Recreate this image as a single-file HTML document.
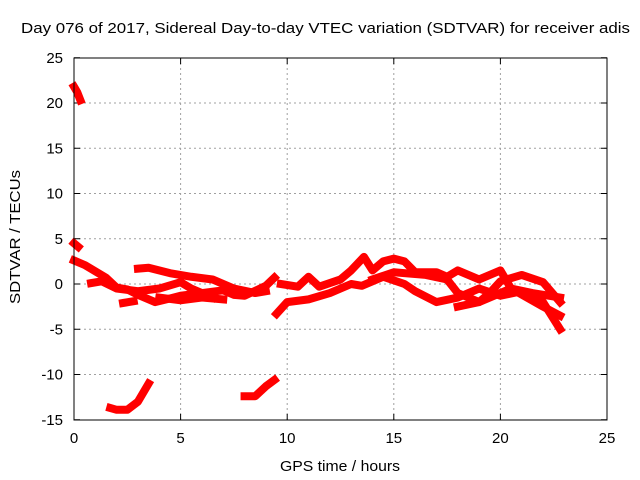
<!DOCTYPE html>
<html><head><meta charset="utf-8"><style>
body{margin:0;background:#fff}
svg{display:block;font-family:"Liberation Sans",sans-serif}
</style></head><body>
<svg id="chart" width="640" height="480">
<rect width="640" height="480" fill="#fff"/>
<text x="21" y="33" font-size="15" textLength="609" lengthAdjust="spacingAndGlyphs">Day 076 of 2017, Sidereal Day-to-day VTEC variation (SDTVAR) for receiver adis</text>
<text x="280" y="471" font-size="15" textLength="120" lengthAdjust="spacingAndGlyphs">GPS time / hours</text>
<text transform="translate(20,304) rotate(-90)" font-size="15" textLength="134" lengthAdjust="spacingAndGlyphs">SDTVAR / TECUs</text>
<g id="grid"></g><g id="ticks"></g><g id="marks"></g>
<rect x="74" y="58" width="533" height="362" fill="none" stroke="#000" stroke-width="1"/>
</svg>
<script>
const xTicks=[0,5,10,15,20,25];
const yTicks=[25,20,15,10,5,0,-5,-10,-15];
const traceTop=[[0,21.8],[0.15,21.2],[0.3,20.3]];
const traceEarly=[[0,4.5],[0.2,4.1]];
const traceA=[[0,2.6],[0.5,2.1],[1,1.4],[1.5,0.7],[2,-0.4],[2.5,-0.6],[3,-1.2],[3.8,-2],[4.5,-1.6],[5,-1.3],[6,-1],[7,-0.7],[7.5,-1.2],[8,-1.3],[9,-0.2],[9.4,0.7]];
const traceB=[[3,1.7],[3.5,1.8],[4.5,1.2],[5.5,0.8],[6.5,0.5],[7.5,-0.5],[8.5,-1],[9,-0.8]];
const traceC=[[0.8,0.1],[1.3,0.3],[2,-0.5],[3,-0.8],[4,-0.5],[5,0.2],[5.5,-0.5],[6.5,-1.5]];
const traceD=[[2.3,-2.1],[2.8,-1.9]];
const traceE=[[4,-1.5],[5,-1.8],[6,-1.5],[7,-1.7]];
const traceLow1=[[1.7,-13.7],[2,-13.9],[2.5,-13.9],[3,-13],[3.5,-11]];
const traceLow2=[[8,-12.4],[8.5,-12.4],[9,-11.3],[9.4,-10.6]];
const traceMid=[[9.5,-3.3],[10,-2],[11,-1.7],[12,-1],[13,0],[13.5,-0.2],[14.5,0.8],[15.5,0],[16,-0.8],[17,-2],[18,-1.5],[19,-0.5],[20,-1.3],[21,-0.8],[22,-2],[22.8,-5]];
const traceUpper=[[9.7,0],[10.5,-0.3],[11,0.8],[11.5,-0.3],[12.5,0.5],[13,1.5],[13.6,3],[14,1.5],[14.5,2.5],[15,2.8],[15.5,2.5],[16,1.3],[17,1.3],[17.5,0.8],[18,1.5],[19,0.5],[20,1.5],[20.5,-0.5],[21.5,-1],[22.8,-1.5]];
const traceF=[[14,0.5],[15,1.3],[16.5,1],[17.5,0.5],[18,-1],[19,-2],[19.5,-1],[20,0.3],[21,1],[22,0.2],[22.8,-2]];
const traceG=[[18,-2.5],[19,-2],[20.5,-0.5],[22,-2.5],[22.8,-3.5]];
const traces=[traceTop,traceEarly,traceA,traceB,traceC,traceD,traceE,traceLow1,traceLow2,traceMid,traceUpper,traceF,traceG];
const X=h=>74+h*(533/25);
const Y=v=>284-v*9.05;
const NS="http://www.w3.org/2000/svg";
const grid=document.getElementById('grid'),ticks=document.getElementById('ticks'),marks=document.getElementById('marks');
function mk(t,a,p){const e=document.createElementNS(NS,t);for(const k in a)e.setAttribute(k,a[k]);p.appendChild(e);return e;}
xTicks.forEach(t=>{
  if(t>0&&t<25){const g=mk('line',{x1:X(t),x2:X(t),y1:58,y2:420,stroke:'#a0a0a0','stroke-dasharray':'2,3'},grid);
  
  }
  const l=mk('text',{x:X(t),y:443,'font-size':15,'text-anchor':'middle'},ticks);l.textContent=t;
  
  
  mk('line',{x1:X(t),x2:X(t),y1:420,y2:414,stroke:'#000'},ticks);
  mk('line',{x1:X(t),x2:X(t),y1:58,y2:64,stroke:'#000'},ticks);
});
yTicks.forEach(t=>{
  if(t<25&&t>-15){const g=mk('line',{x1:74,x2:607,y1:Y(t),y2:Y(t),stroke:'#a0a0a0','stroke-dasharray':'2,3'},grid);
  
  }
  const l=mk('text',{x:63,y:Y(t)+5,'font-size':15,'text-anchor':'end'},ticks);l.textContent=t;
  
  
  mk('line',{x1:74,x2:80,y1:Y(t),y2:Y(t),stroke:'#000'},ticks);
  mk('line',{x1:601,x2:607,y1:Y(t),y2:Y(t),stroke:'#000'},ticks);
});
traces.forEach(tr=>{
  const p=mk('polyline',{points:tr.map(d=>X(d[0])+','+Y(d[1])).join(' '),fill:'none',stroke:'#ff0000','stroke-width':8,'stroke-linejoin':'round','stroke-linecap':'square'},marks);
  
  
});
</script>
</body></html>
